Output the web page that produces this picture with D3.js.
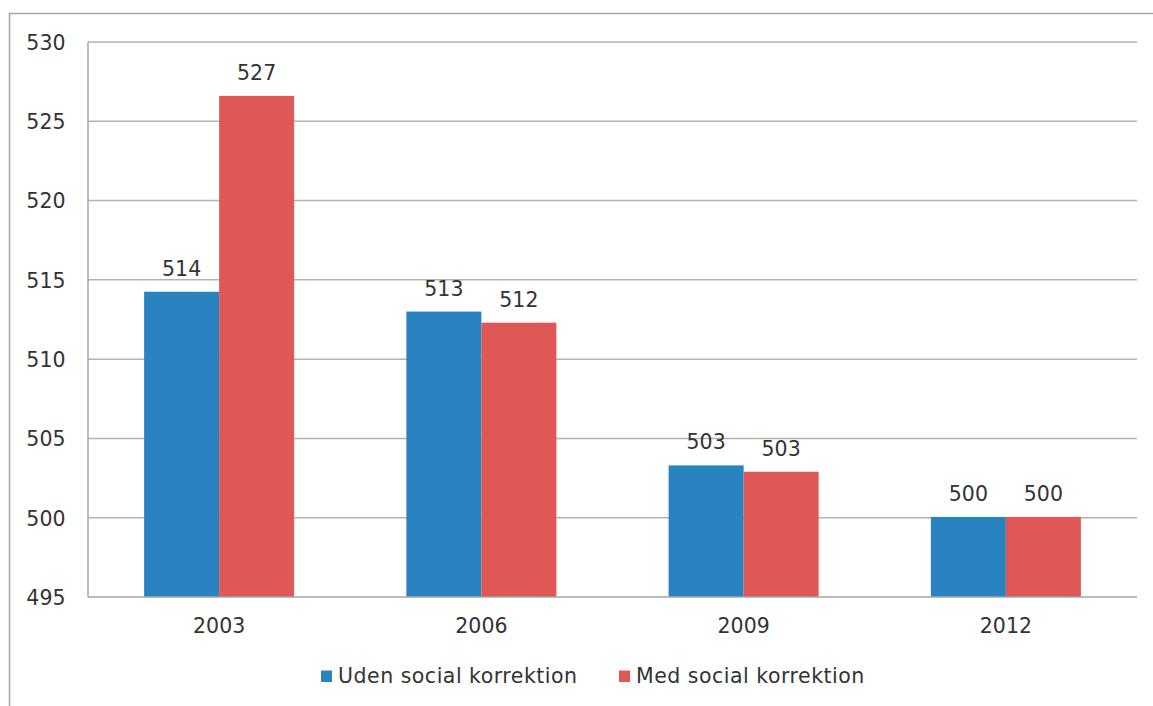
<!DOCTYPE html>
<html>
<head>
<meta charset="utf-8">
<script src="https://cdn.jsdelivr.net/npm/d3@7"></script>
<style>
  html, body { margin: 0; padding: 0; background: #fff; }
  svg { display: block; font-family: "DejaVu Sans", Verdana, sans-serif; }
</style>
</head>
<body>
<svg id="chart" width="1153" height="706"></svg>
<script>
const categories = ["2003", "2006", "2009", "2012"];
const seriesNames = ["Uden social korrektion", "Med social korrektion"];
const udenValues = [514.25, 513.0, 503.3, 500.05];
const medValues = [526.6, 512.3, 502.9, 500.05];
const yTicks = [495, 500, 505, 510, 515, 520, 525, 530];
const colors = ["#2983c1", "#e05855"];

const svg = d3.select("#chart");
const W = 1153, H = 706;
const m = { left: 88, right: 16, top: 42, bottom: 109 };
const plotW = W - m.left - m.right;
const plotBottom = H - m.bottom;
const FS = 20.5;

// outer frame
svg.append("path")
  .attr("d", `M9.5,${H} V13.5 H${W}`)
  .attr("fill", "none").attr("stroke", "#a6a6a6").attr("stroke-width", 1.5);

const x0 = d3.scaleBand().domain(categories).range([m.left, m.left + plotW]).paddingInner(0).paddingOuter(0);
const barGroup = x0.bandwidth() * 0.572;
const x1 = d3.scaleBand().domain(seriesNames).range([0, barGroup]);
const y = d3.scaleLinear().domain([495, 530]).range([plotBottom, m.top]);

// gridlines
svg.append("g").selectAll("line").data(yTicks.filter(t => t !== 495)).join("line")
  .attr("x1", m.left).attr("x2", m.left + plotW)
  .attr("y1", d => y(d)).attr("y2", d => y(d))
  .attr("stroke", "#b3b3b3").attr("stroke-width", 1.5);

// y axis labels
const yAxis = d3.axisLeft(y).tickValues(yTicks).tickSize(0).tickPadding(22.5);
const gy = svg.append("g").attr("transform", `translate(${m.left},0)`).call(yAxis);
gy.select(".domain").remove();
gy.selectAll("text").attr("font-size", FS).attr("fill", "#333").attr("dy", "0.36em")
  .attr("font-family", "DejaVu Sans, Verdana, sans-serif");

const data = categories.map((c, i) => ({ cat: c, vals: [udenValues[i], medValues[i]] }));

const groups = svg.append("g").selectAll("g").data(data).join("g")
  .attr("transform", d => `translate(${x0(d.cat) + (x0.bandwidth() - barGroup) / 2},0)`);

groups.selectAll("rect").data(d => d.vals.map((v, j) => ({ v, j }))).join("rect")
  .attr("x", d => x1(seriesNames[d.j]))
  .attr("width", x1.bandwidth())
  .attr("y", d => y(d.v))
  .attr("height", d => y(495) - y(d.v))
  .attr("fill", d => colors[d.j]);

const fmt = d3.format(".0f");
groups.selectAll("text").data(d => d.vals.map((v, j) => ({ v, j }))).join("text")
  .attr("x", d => x1(seriesNames[d.j]) + x1.bandwidth() / 2)
  .attr("y", d => y(d.v) - 16)
  .attr("text-anchor", "middle")
  .attr("font-size", FS).attr("fill", "#333")
  .text(d => fmt(d.v));

// axes lines
svg.append("line").attr("x1", m.left).attr("x2", m.left).attr("y1", m.top).attr("y2", plotBottom)
  .attr("stroke", "#a6a6a6").attr("stroke-width", 1.5);
svg.append("line").attr("x1", m.left).attr("x2", m.left + plotW).attr("y1", plotBottom).attr("y2", plotBottom)
  .attr("stroke", "#a6a6a6").attr("stroke-width", 1.5);

// x axis labels
const xAxis = d3.axisBottom(x0).tickSize(0).tickPadding(21.5);
const gx = svg.append("g").attr("transform", `translate(0,${plotBottom})`).call(xAxis);
gx.select(".domain").remove();
gx.selectAll("text").attr("font-size", FS).attr("fill", "#333").attr("font-family", "DejaVu Sans, Verdana, sans-serif");

// legend
const legendX = [321, 619];
const lg = svg.append("g").selectAll("g").data(seriesNames).join("g")
  .attr("transform", (d, i) => `translate(${legendX[i]},670.5)`);
lg.append("rect").attr("width", 11).attr("height", 11.5).attr("fill", (d, i) => colors[i]);
lg.append("text").attr("x", 17).attr("y", 12.5).attr("font-size", FS).attr("letter-spacing", "0.5px")
  .attr("fill", "#333").text(d => d);
</script>
</body>
</html>
